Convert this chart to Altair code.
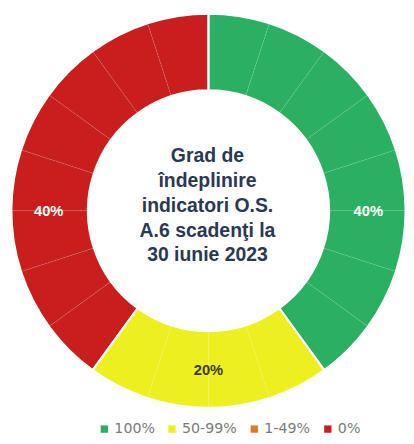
import altair as alt
import pandas as pd

# ---- data ----
categories = ["100%", "50-99%", "1-49%", "0%"]
indicator_counts = [8, 4, 0, 8]          # one slice per indicator
share_labels = ["40%", "20%", "0%", "40%"]
label_slot = [5, 2, 0, 3]                # indicator boundary (within group) where the label sits
colors = ["#2BAF62", "#EEEF1E", "#DC7A2E", "#C81E1E"]
center_lines = ["Grad de", "îndeplinire", "indicatori O.S.", "A.6 scadenţi la", "30 iunie 2023"]

# ---- tables built from the arrays ----
rows = []
i = 0
for c, n in zip(categories, indicator_counts):
    for _ in range(n):
        rows.append({"cat": c, "idx": i, "one": 1})
        i += 1
slices = pd.DataFrame(rows)
total = sum(indicator_counts)

cat_rows = []
start = 0
for k, (c, n, lab, s) in enumerate(zip(categories, indicator_counts, share_labels, label_slot)):
    cat_rows.append({"cat": c, "ord": k, "count": n, "label": lab, "pos": start + s})
    start += n
cats = pd.DataFrame(cat_rows)
cats = cats[cats["count"] > 0]

CX, CY = 204.5, 202.5
R_OUT, R_IN = 201, 123

theta_scale = alt.Scale(domain=[0, total])
color_scale = alt.Scale(domain=categories, range=colors)

arcs = alt.Chart(slices).mark_arc(
    outerRadius=R_OUT, innerRadius=R_IN,
    stroke="white", strokeOpacity=0.08, strokeWidth=1
).encode(
    theta=alt.Theta("one:Q", stack=True, scale=theta_scale),
    order=alt.Order("idx:Q"),
    color=alt.Color("cat:N", scale=color_scale, legend=alt.Legend(
        title=None, orient="none", direction="horizontal",
        legendX=91, legendY=418, columns=4, padding=0, gridAlign="none",
        symbolType="square", symbolSize=56, symbolStrokeWidth=0,
        labelFont="DejaVu Sans", labelFontSize=14.5, labelColor="#7a7a7a",
        labelOffset=3, columnPadding=10
    )),
    x=alt.value(CX), y=alt.value(CY),
)

bounds = alt.Chart(cats).mark_arc(
    outerRadius=R_OUT, innerRadius=R_IN,
    fillOpacity=0, stroke="white", strokeWidth=2
).encode(
    theta=alt.Theta("count:Q", stack=True, scale=theta_scale),
    order=alt.Order("ord:Q"),
    x=alt.value(CX), y=alt.value(CY),
)

labels = alt.Chart(cats).mark_text(
    radius=163, font="Liberation Sans", fontSize=15, fontWeight="bold",
    align="center", baseline="middle"
).encode(
    theta=alt.Theta("pos:Q", stack=False, scale=theta_scale),
    text="label:N",
    color=alt.condition(alt.datum.cat == "50-99%", alt.value("#3d3d10"), alt.value("white")),
    x=alt.value(CX), y=alt.value(CY),
)

center = alt.Chart(pd.DataFrame({"a": [0]})).mark_text(
    text=center_lines, font="Liberation Sans", fontSize=19.8, fontWeight="bold",
    color="#2B3852", align="center", baseline="middle", lineHeight=25.3
).encode(x=alt.value(CX - 1), y=alt.value(147))

chart = alt.layer(arcs, bounds, labels, center).properties(
    width=406, height=428,
    autosize=alt.AutoSizeParams(type="none"),
    padding=0,
).configure_view(stroke=None)

chart.save("out.html", embed_options={"renderer": "svg", "actions": False})
